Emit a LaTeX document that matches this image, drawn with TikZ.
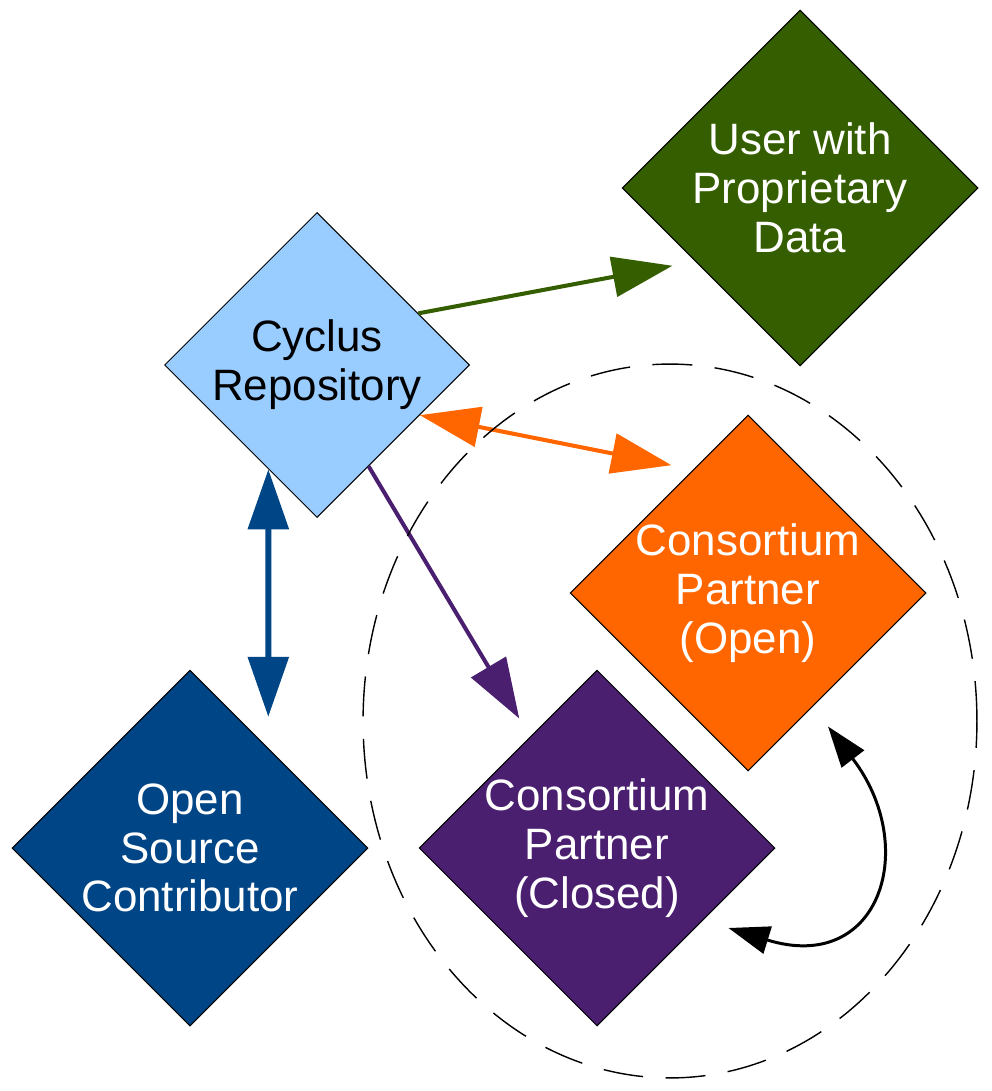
\documentclass[tikz,border=0pt]{standalone}
\usepackage{fontspec}
\setmainfont{Liberation Sans}
\usetikzlibrary{shapes.geometric,arrows.meta}
\definecolor{repoblue}{HTML}{99CCFF}
\definecolor{userGreen}{HTML}{355E00}
\definecolor{openOrange}{HTML}{FF6600}
\definecolor{closedPurple}{HTML}{4B1F6F}
\definecolor{contribBlue}{HTML}{004586}
\tikzset{
  party/.style   = {shape=diamond, draw, line width=0.6pt, aspect=1,
                    inner sep=-4pt, minimum size=7.12cm,
                    align=center, text=white},
  repo/.style    = {party, minimum size=6.1cm, fill=repoblue, text=black},
  user/.style    = {party, fill=userGreen},
  partner/.style = {party, fill=openOrange},
  closed/.style  = {party, fill=closedPurple},
  contrib/.style = {party, fill=contribBlue},
  bigtip/.tip    = {Triangle[length=1.2cm, width=0.8cm]},
  smalltip/.tip  = {Triangle[length=0.82cm, width=0.56cm]},
  link/.style    = {line width=2.3pt, -bigtip},
  circle of trust/.style = {draw, line width=0.8pt,
                    dash pattern=on 0.8cm off 0.45cm}
}
\begin{document}
\begin{tikzpicture}
  [
    x = 0.02cm, y = -0.02cm,
    every node/.style = {font=\fontsize{25}{27.8}\selectfont}
  ]
  \useasboundingbox (0,0) rectangle (991,1091);
  \node [repo]    (repo)    at (317,365) {Cyclus\\Repository};
  \node [user]    (user)    at (800,188) {User with\\Proprietary\\Data};
  \node [partner] (open)    at (748,593) {Consortium\\Partner\\(Open)};
  \node [closed]  (closed)  at (597,848) {Consortium\\Partner\\(Closed)};
  \node [contrib] (contrib) at (190,848) {Open\\Source\\Contributor};

  \draw [link, userGreen, shorten >=0.46cm] (repo.27) -- (user.215);
  \draw [link, openOrange, bigtip-bigtip, shorten >=0.44cm] (repo.-26) -- (open.114);
  \draw [link, closedPurple, shorten >=0.42cm] (repo.-63) -- (closed.121);
  \draw [link, contribBlue, line width=3.4pt, bigtip-bigtip,
         shorten >=0.62cm] (repo.-115) -- (contrib.52);
  \draw [line width=1.7pt, smalltip-smalltip]
    ([shift={(-47,80)}]closed.east) .. controls +(152,47) and +(92,120)
    .. ([shift={(80,-45)}]open.south);

  \draw [circle of trust] (670,721) ellipse [x radius=6.14cm, y radius=7.14cm];
\end{tikzpicture}
\end{document}
